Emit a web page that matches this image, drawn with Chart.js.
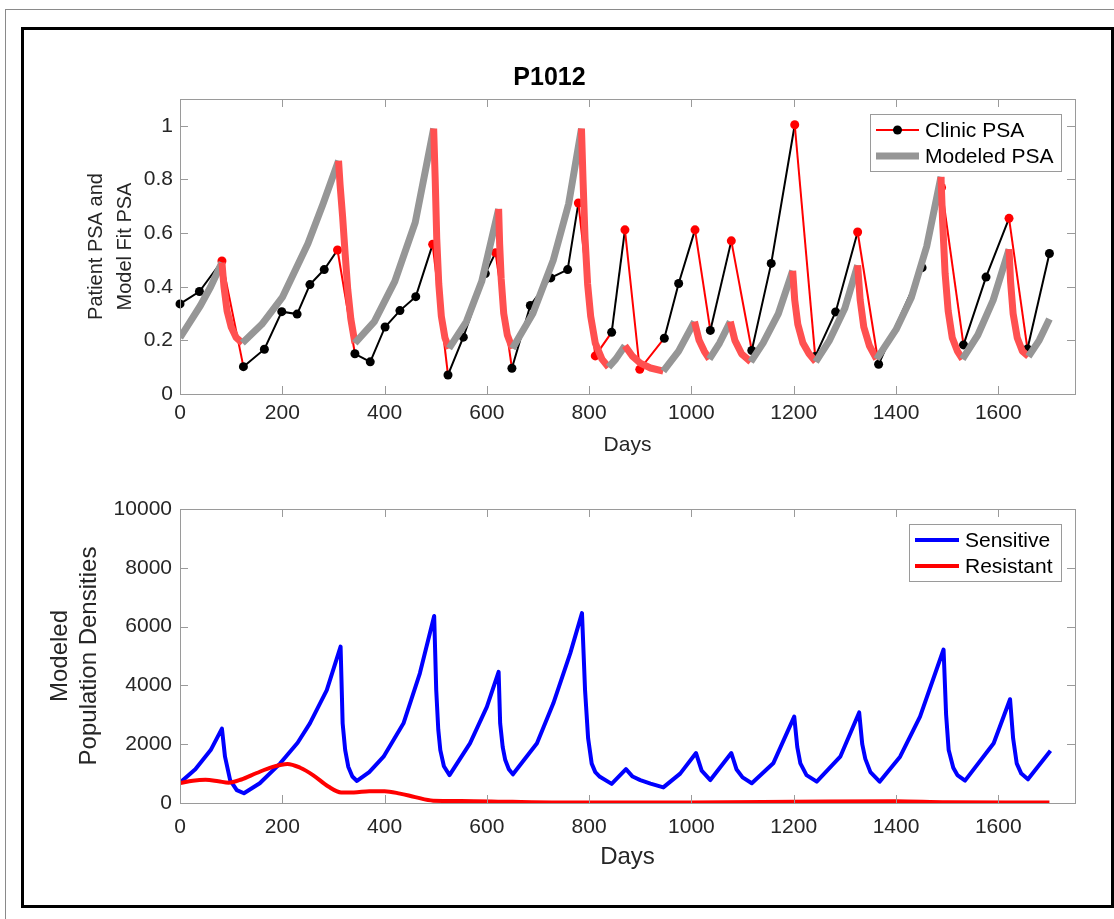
<!DOCTYPE html>
<html>
<head>
<meta charset="utf-8">
<script src="https://cdn.jsdelivr.net/npm/chart.js@4.4.0/dist/chart.umd.min.js"></script>
<style>
    body { margin: 0; background: #fff; width: 1114px; height: 919px; position: relative; overflow: hidden; }
    #hline { position: absolute; left: 5px; top: 9px; width: 1109px; height: 1px; background: #8a8a8a; }
    #vline { position: absolute; left: 5px; top: 9px; width: 1px; height: 910px; background: #8a8a8a; }
    #frame { position: absolute; left: 21px; top: 27px; width: 1087px; height: 875px; border: 3px solid #000; }
    canvas { position: absolute; left: 24px; }
    #psaChart { top: 30px; }
    #popChart { top: 470px; }
</style>
</head>
<body>
<div id="hline"></div>
<div id="vline"></div>
<div id="frame"></div>
<canvas id="psaChart" width="1086" height="440"></canvas>
<canvas id="popChart" width="1086" height="435"></canvas>
<script>
// clinic PSA measurements (1 = on treatment from this point)
const clinicDays = [0, 38, 82, 124, 165, 199, 229, 254, 282, 308, 342, 372, 401, 430, 461, 494, 524, 554, 597, 617,
    649, 685, 725, 758, 779, 812, 844, 870, 899, 947, 975, 1007, 1037, 1078, 1118, 1156, 1202, 1242, 1282, 1325,
    1366, 1451, 1489, 1532, 1576, 1621, 1657, 1700];
const clinicPsa = [0.336, 0.382, 0.496, 0.102, 0.167, 0.307, 0.298, 0.408, 0.464, 0.537, 0.150, 0.120, 0.250, 0.311,
    0.363, 0.558, 0.071, 0.212, 0.449, 0.527, 0.096, 0.330, 0.433, 0.464, 0.712, 0.142, 0.230, 0.612, 0.092, 0.208,
    0.412, 0.612, 0.237, 0.571, 0.162, 0.487, 1.004, 0.140, 0.306, 0.604, 0.111, 0.471, 0.770, 0.183, 0.436, 0.655,
    0.168, 0.524];
const clinicOnTreatment = [0, 0, 1, 0, 0, 0, 0, 0, 0, 1, 0, 0, 0, 0, 0, 1, 0, 0, 0, 1, 0, 0, 0, 0, 1, 1, 0, 1, 1, 0,
    0, 1, 0, 1, 0, 0, 1, 0, 0, 1, 0, 0, 1, 0, 0, 1, 0, 0];

// model fit PSA
const modelDays = [0, 20, 40, 60, 82, 86, 92, 100, 110, 122, 160, 200, 250, 280, 310, 313, 318, 323, 328, 334,
    342, 380, 420, 460, 496, 499, 502, 506, 511, 518, 526, 560, 590, 623, 625, 628, 633, 640, 650, 690, 730, 760,
    785, 788, 792, 797, 803, 812, 825, 838, 852, 870, 885, 900, 920, 945, 975, 1006, 1015, 1025, 1035, 1055, 1076,
    1085, 1098, 1116, 1140, 1170, 1198, 1202, 1208, 1218, 1230, 1243, 1270, 1300, 1325, 1330, 1337, 1348, 1362,
    1400, 1430, 1460, 1488, 1491, 1496, 1502, 1510, 1520, 1530, 1560, 1590, 1621, 1624, 1629, 1637, 1647, 1659,
    1680, 1700];
const modelPsa = [0.21, 0.27, 0.33, 0.40, 0.49, 0.40, 0.31, 0.25, 0.21, 0.19, 0.26, 0.36, 0.56, 0.71, 0.87, 0.78,
    0.66, 0.52, 0.39, 0.28, 0.19, 0.27, 0.42, 0.64, 0.99, 0.80, 0.58, 0.41, 0.29, 0.21, 0.17, 0.27, 0.42, 0.69, 0.56,
    0.43, 0.30, 0.22, 0.17, 0.30, 0.50, 0.71, 0.99, 0.80, 0.58, 0.41, 0.29, 0.19, 0.13, 0.10, 0.13, 0.18, 0.14, 0.115,
    0.097, 0.085, 0.16, 0.27, 0.20, 0.16, 0.13, 0.19, 0.27, 0.20, 0.15, 0.12, 0.19, 0.30, 0.46, 0.35, 0.26, 0.19,
    0.15, 0.12, 0.20, 0.32, 0.48, 0.35, 0.25, 0.18, 0.13, 0.24, 0.36, 0.55, 0.81, 0.65, 0.45, 0.31, 0.21, 0.16, 0.13,
    0.22, 0.35, 0.54, 0.42, 0.30, 0.21, 0.16, 0.14, 0.20, 0.28];
const modelOnTreatment = [0, 0, 0, 0, 1, 1, 1, 1, 1, 0, 0, 0, 0, 0, 1, 1, 1, 1, 1, 1, 0, 0, 0, 0, 1, 1, 1, 1, 1, 1,
    0, 0, 0, 1, 1, 1, 1, 1, 0, 0, 0, 0, 1, 1, 1, 1, 1, 1, 1, 0, 0, 1, 1, 1, 1, 0, 0, 1, 1, 1, 0, 0, 1, 1, 1, 0, 0, 0,
    1, 1, 1, 1, 1, 0, 0, 0, 1, 1, 1, 1, 0, 0, 0, 0, 1, 1, 1, 1, 1, 1, 0, 0, 0, 1, 1, 1, 1, 1, 0, 0, 0];

// modeled populations
const sensDays = [0, 30, 60, 82, 88, 98, 111, 125, 156, 196, 230, 254, 287, 314, 318, 323, 329, 337, 346, 370, 398,
    437, 469, 497, 501, 505, 509, 516, 527, 567, 600, 623, 626, 631, 636, 643, 651, 698, 730, 763, 786, 792, 798, 805,
    812, 821, 844, 872, 885, 900, 920, 945, 978, 1009, 1020, 1037, 1078, 1088, 1100, 1118, 1160, 1201, 1207, 1213,
    1225, 1245, 1291, 1328, 1334, 1340, 1350, 1368, 1408, 1447, 1493, 1498, 1503, 1512, 1520, 1535, 1591, 1623, 1629,
    1636, 1645, 1658, 1702];
const sensitive = [690, 1150, 1800, 2530, 1575, 780, 440, 330, 670, 1350, 2050, 2710, 3840, 5320, 2710, 1800, 1235,
    900, 750, 1050, 1575, 2710, 4410, 6360, 3840, 2500, 1800, 1250, 950, 2030, 3270, 4460, 2710, 1900, 1460, 1150,
    975, 2030, 3390, 5090, 6460, 3840, 2200, 1340, 1050, 890, 650, 1150, 900, 780, 660, 530, 1000, 1700, 1100, 780,
    1700, 1150, 870, 670, 1350, 2940, 1900, 1350, 950, 725, 1575, 3080, 2000, 1500, 1050, 725, 1575, 2940, 5220, 3000,
    1800, 1200, 950, 760, 2030, 3530, 2200, 1350, 1000, 805, 1780];
const resDays = [0, 25, 50, 75, 95, 120, 150, 180, 210, 235, 260, 290, 315, 340, 370, 400, 430, 460, 495, 550, 650,
    800, 1000, 1200, 1400, 1500, 1700];
const resistant = [680, 760, 790, 740, 690, 800, 1020, 1220, 1330, 1200, 950, 560, 360, 360, 400, 400, 320, 200, 80,
    70, 40, 15, 20, 40, 60, 25, 20];

const FONT = '"Liberation Sans", Arial, Helvetica, sans-serif';
const GRAY = '#969696';
const FIT_RED = '#ff5050';
const BOX = '#9a9a9a';

Chart.defaults.font.family = FONT;
Chart.defaults.color = '#262626';

const toPoints = (xs, ys) => xs.map((x, i) => ({ x: x, y: ys[i] }));

// MATLAB style box with inward ticks on all sides
const matlabBox = {
    id: 'matlabBox',
    afterDatasetsDraw(chart) {
        const { ctx, chartArea: a, scales: { x, y } } = chart;
        const len = 8;
        ctx.save();
        ctx.strokeStyle = BOX;
        ctx.lineWidth = 1;
        ctx.strokeRect(Math.round(a.left) + 0.5, Math.round(a.top) + 0.5,
            Math.round(a.right - a.left), Math.round(a.bottom - a.top));
        ctx.beginPath();
        x.ticks.forEach(t => {
            const px = Math.round(x.getPixelForValue(t.value)) + 0.5;
            ctx.moveTo(px, a.bottom); ctx.lineTo(px, a.bottom - len);
            ctx.moveTo(px, a.top); ctx.lineTo(px, a.top + len);
        });
        y.ticks.forEach(t => {
            const py = Math.round(y.getPixelForValue(t.value)) + 0.5;
            ctx.moveTo(a.left, py); ctx.lineTo(a.left + len, py);
            ctx.moveTo(a.right, py); ctx.lineTo(a.right - len, py);
        });
        ctx.stroke();
        ctx.restore();
    }
};

// legend box drawn inside the plot, top right
const boxLegend = {
    id: 'boxLegend',
    afterDraw(chart, args, opts) {
        const { ctx, chartArea: a } = chart;
        const items = opts.items;
        ctx.save();
        ctx.font = opts.fontSize + 'px ' + FONT;
        const textW = Math.max(...items.map(it => ctx.measureText(chart.data.datasets[it.dataset].label).width));
        const w = 6 + opts.sampleLen + 6 + textW + 8;
        const h = 16 + opts.rowGap * (items.length - 1) + 15;
        const right = Math.round(a.right) - 14;
        const top = Math.round(a.top) + 15;
        const left = Math.round(right - w);
        ctx.fillStyle = '#fff';
        ctx.fillRect(left, top, right - left, h);
        ctx.strokeStyle = BOX;
        ctx.lineWidth = 1;
        ctx.strokeRect(left + 0.5, top + 0.5, right - left, h);
        items.forEach((it, i) => {
            const ds = chart.data.datasets[it.dataset];
            const cy = top + 16 + i * opts.rowGap;
            const x0 = left + 6;
            ctx.strokeStyle = it.color;
            ctx.lineWidth = ds.borderWidth;
            ctx.beginPath();
            ctx.moveTo(x0, cy);
            ctx.lineTo(x0 + opts.sampleLen, cy);
            ctx.stroke();
            if (it.marker) {
                ctx.fillStyle = it.marker;
                ctx.beginPath();
                ctx.arc(x0 + opts.sampleLen / 2, cy, ds.pointRadius, 0, Math.PI * 2);
                ctx.fill();
            }
            ctx.fillStyle = '#000';
            ctx.textBaseline = 'middle';
            ctx.fillText(ds.label, x0 + opts.sampleLen + 6, cy + 1);
        });
        ctx.restore();
    }
};

const axisTicks = (size, pad, fmt) => ({ font: { size: size }, padding: pad, maxRotation: 0, includeBounds: false, callback: fmt });
const fmtNum = v => String(+Number(v).toFixed(2));
const noGrid = { display: false, drawTicks: false };

new Chart(document.getElementById('psaChart'), {
    type: 'line',
    data: {
        datasets: [
            {
                label: 'Modeled PSA',
                data: toPoints(modelDays, modelPsa),
                borderColor: GRAY,
                borderWidth: 7,
                borderJoinStyle: 'round',
                pointRadius: 0,
                segment: { borderColor: c => modelOnTreatment[c.p0DataIndex] ? FIT_RED : GRAY }
            },
            {
                label: 'Clinic PSA',
                data: toPoints(clinicDays, clinicPsa),
                borderColor: '#ff0000',
                borderWidth: 2,
                pointRadius: 4.5,
                pointBorderWidth: 0,
                pointBackgroundColor: clinicOnTreatment.map(f => f ? '#ff0000' : '#000000'),
                clip: false,
                segment: { borderColor: c => clinicOnTreatment[c.p0DataIndex] ? '#ff0000' : '#000000' }
            }
        ]
    },
    options: {
        responsive: false,
        animation: false,
        events: [],
        layout: { padding: { left: 0, right: 35, top: 0, bottom: 0 } },
        plugins: {
            legend: { display: false },
            tooltip: { enabled: false },
            title: {
                display: true, text: 'P1012', color: '#000',
                font: { size: 25, weight: 'bold' }, padding: { top: 33, bottom: 6 }
            },
            boxLegend: {
                fontSize: 21, sampleLen: 43, rowGap: 26,
                items: [{ dataset: 1, color: '#ff0000', marker: '#000000' }, { dataset: 0, color: GRAY }]
            }
        },
        scales: {
            x: {
                type: 'linear', min: 0, max: 1750,
                grid: noGrid, border: { display: false },
                ticks: Object.assign(axisTicks(21, 7, fmtNum), { stepSize: 200 }),
                title: { display: true, text: 'Days', font: { size: 21 }, padding: { top: 0, bottom: 12 } },
                afterFit: s => { s.height = 76; }
            },
            y: {
                min: 0, max: 1.1,
                grid: noGrid, border: { display: false },
                ticks: Object.assign(axisTicks(21, 7, fmtNum), { stepSize: 0.2 }),
                title: {
                    display: true, text: ['Patient PSA and', 'Model Fit PSA'],
                    font: { size: 20, lineHeight: 1.45 }, padding: { top: 58, bottom: 0 }
                },
                afterFit: s => { s.width = 156; }
            }
        }
    },
    plugins: [matlabBox, boxLegend]
});

new Chart(document.getElementById('popChart'), {
    type: 'line',
    data: {
        datasets: [
            {
                label: 'Resistant',
                data: toPoints(resDays, resistant),
                borderColor: '#ff0000',
                borderWidth: 4,
                pointRadius: 0,
                cubicInterpolationMode: 'monotone'
            },
            {
                label: 'Sensitive',
                data: toPoints(sensDays, sensitive),
                borderColor: '#0000ff',
                borderWidth: 4,
                borderJoinStyle: 'round',
                pointRadius: 0
            }
        ]
    },
    options: {
        responsive: false,
        animation: false,
        events: [],
        layout: { padding: { left: 0, right: 35, top: 39, bottom: 0 } },
        plugins: {
            legend: { display: false },
            tooltip: { enabled: false },
            boxLegend: {
                fontSize: 21, sampleLen: 44, rowGap: 26,
                items: [{ dataset: 1, color: '#0000ff' }, { dataset: 0, color: '#ff0000' }]
            }
        },
        scales: {
            x: {
                type: 'linear', min: 0, max: 1750,
                grid: noGrid, border: { display: false },
                ticks: Object.assign(axisTicks(21, 12, fmtNum), { stepSize: 200 }),
                title: { display: true, text: 'Days', font: { size: 24 }, padding: { top: 0, bottom: 33 } },
                afterFit: s => { s.height = 102; }
            },
            y: {
                min: 0, max: 10000,
                grid: noGrid, border: { display: false },
                ticks: Object.assign(axisTicks(21, 8, fmtNum), { stepSize: 2000 }),
                title: {
                    display: true, text: ['Modeled', 'Population Densities'],
                    font: { size: 24, lineHeight: 1.2 }, padding: { top: 22, bottom: 0 }
                },
                afterFit: s => { s.width = 156; }
            }
        }
    },
    plugins: [matlabBox, boxLegend]
});
</script>
</body>
</html>
